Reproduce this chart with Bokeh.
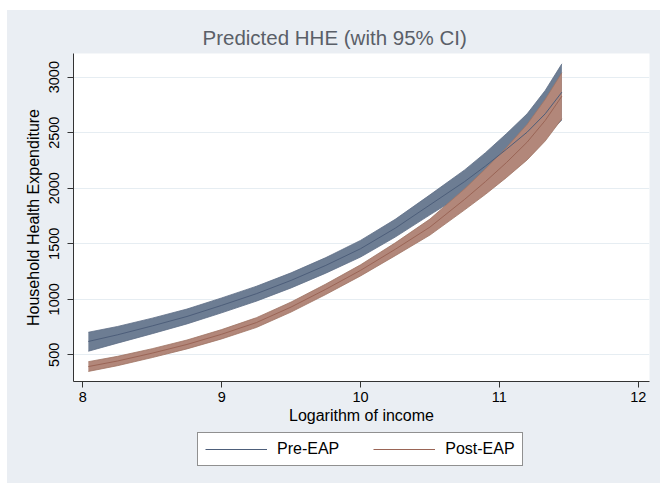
from bokeh.plotting import figure
from bokeh.models import Legend, Range1d, FixedTicker
from bokeh.layouts import column
from bokeh.embed import file_html
from bokeh.resources import INLINE

# ---- data ----
income = [8.04, 8.25, 8.5, 8.75, 9.0, 9.25, 9.5, 9.75, 10.0, 10.25, 10.5, 10.75, 10.9, 11.05, 11.2, 11.33, 11.45]

pre_mean  = [620, 680, 760, 845, 945, 1050, 1170, 1305, 1455, 1640, 1850, 2060, 2200, 2350, 2505, 2670, 2865]
pre_upper = [703, 755, 830, 912, 1012, 1117, 1238, 1375, 1530, 1720, 1940, 2165, 2320, 2490, 2670, 2880, 3120]
pre_lower = [532, 605, 690, 778, 878, 983, 1102, 1235, 1380, 1560, 1760, 1955, 2080, 2210, 2340, 2465, 2615]

post_mean  = [394, 444, 515, 593, 685, 790, 930, 1090, 1260, 1450, 1650, 1900, 2060, 2230, 2415, 2610, 2829]
post_upper = [438, 486, 555, 633, 727, 834, 975, 1137, 1310, 1508, 1722, 1995, 2175, 2365, 2575, 2800, 3040]
post_lower = [350, 402, 475, 553, 643, 746, 885, 1043, 1210, 1392, 1578, 1805, 1945, 2095, 2255, 2425, 2625]

x_ticks = [8, 9, 10, 11, 12]
y_ticks = [500, 1000, 1500, 2000, 2500, 3000]

title_text = "Predicted HHE (with 95% CI)"
x_label = "Logarithm of income"
y_label = "Household Health Expenditure"
series_names = ["Pre-EAP", "Post-EAP"]

FONT = "Liberation Sans"
BG = "#EAEEF3"

BLUE_FILL = "#6D7D93"
BLUE_EDGE = "#5F6F86"
BLUE_LINE = "#4D5E7A"
RED_FILL = "#B2877A"
RED_EDGE = "#A07565"
RED_LINE = "#9A6556"

# ---------------- main chart ----------------
p = figure(frame_width=576, frame_height=328, output_backend="svg", toolbar_location=None,
           x_range=Range1d(7.933, 12.081), y_range=Range1d(259.5, 3213),
           min_border_left=66, min_border_right=11, min_border_top=43, min_border_bottom=50)

p.background_fill_color = "white"
p.border_fill_color = BG
p.outline_line_color = None

p.title.text = title_text
p.title.text_font = FONT
p.title.text_font_size = "20.5px"
p.title.text_font_style = "normal"
p.title.text_color = "#5a5f68"
p.title.align = "left"
p.title.offset = 129
p.title.standoff = 9

for ax in (p.xaxis[0], p.yaxis[0]):
    ax.axis_line_color = "#333333"
    ax.major_tick_line_color = "#333333"
    ax.minor_tick_line_color = None
    ax.major_tick_in = 0
    ax.major_tick_out = 6
    ax.major_label_text_font = FONT
    ax.major_label_text_font_size = "14.5px"
    ax.major_label_text_color = "black"
    ax.axis_label_text_font = FONT
    ax.axis_label_text_font_size = "16px"
    ax.axis_label_text_font_style = "normal"
    ax.axis_label_text_color = "black"

p.xaxis.ticker = FixedTicker(ticks=x_ticks)
p.yaxis.ticker = FixedTicker(ticks=y_ticks)
p.xaxis.axis_label = x_label
p.yaxis.axis_label = y_label
p.yaxis.major_label_orientation = "vertical"
p.xaxis.major_label_standoff = 4
p.yaxis.major_label_standoff = 8
p.xaxis.axis_label_standoff = 2
p.yaxis.axis_label_standoff = 5

p.xgrid.grid_line_color = None
p.ygrid.grid_line_color = "#E6EDF2"
p.ygrid.grid_line_width = 1

p.varea(x=income, y1=pre_lower, y2=pre_upper, fill_color=BLUE_FILL, fill_alpha=1)
p.line(income, pre_upper, line_color=BLUE_EDGE, line_width=0.8)
p.line(income, pre_lower, line_color=BLUE_EDGE, line_width=0.8)

p.varea(x=income, y1=post_lower, y2=post_upper, fill_color=RED_FILL, fill_alpha=1)
p.line(income, post_upper, line_color=RED_EDGE, line_width=0.8)
p.line(income, post_lower, line_color=RED_EDGE, line_width=0.8)

p.line(income, pre_mean, line_color=BLUE_LINE, line_width=1)
p.line(income, post_mean, line_color=RED_LINE, line_width=1)

# ---------------- legend strip ----------------
lg = figure(width=653, height=52, output_backend="svg", toolbar_location=None,
            x_range=Range1d(0, 1), y_range=Range1d(0, 1),
            x_axis_location=None, y_axis_location=None, min_border=0)
lg.grid.visible = False
lg.outline_line_color = None
lg.background_fill_color = BG
lg.border_fill_color = BG

# legend keys use the same series (they fall outside this strip's ranges, so only the keys show)
k_pre = lg.line(income, pre_mean, line_color=BLUE_LINE, line_width=1)
k_post = lg.line(income, post_mean, line_color=RED_LINE, line_width=1)

legend = Legend(items=[(series_names[0], [k_pre]), (series_names[1], [k_post])],
                orientation="horizontal", location=(124, 17))
legend.glyph_width = 62
legend.glyph_height = 18
legend.label_height = 18
legend.label_standoff = 10
legend.spacing = 34
legend.padding = 7
legend.margin = 0
legend.border_line_color = "#222222"
legend.border_line_width = 1
legend.background_fill_color = "white"
legend.background_fill_alpha = 1
legend.label_text_font = FONT
legend.label_text_font_size = "16px"
legend.label_text_color = "black"
lg.add_layout(legend, "center")

layout = column(p, lg, spacing=0, margin=(10, 0, 0, 7), styles={"background-color": BG})
open("out.html", "w").write(file_html(layout, INLINE))
